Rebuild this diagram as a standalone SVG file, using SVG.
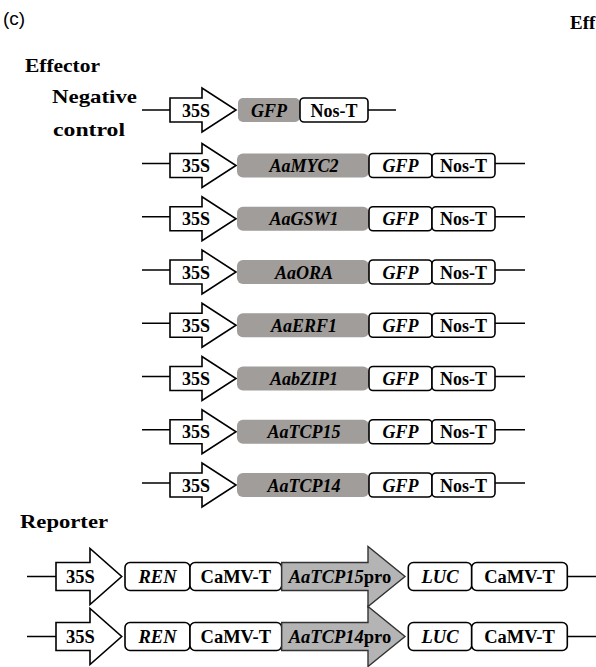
<svg xmlns="http://www.w3.org/2000/svg" width="596" height="667" viewBox="0 0 596 667">
<style>
.t{font-family:"Liberation Serif","Times New Roman",serif;font-weight:bold;font-size:18px;fill:#000;text-anchor:middle}
.i{font-style:italic}
.h{font-family:"Liberation Serif","Times New Roman",serif;font-weight:bold;fill:#000}
.box{fill:#fff;stroke:#000;stroke-width:1.6}
.arr{fill:#fff;stroke:#000;stroke-width:1.6;stroke-linejoin:miter}
.gene{fill:#a09d9a}
.pro{fill:#b4b4b4;stroke:#333;stroke-width:1.4}
.ln{stroke:#000;stroke-width:1.6;fill:none}
.r{font-size:18.5px}
</style>
<defs>
<path id="p35" d="M170,-12 H202 V-22 L236,0 L202,22 V12 H170 Z"/>
<path id="r35" d="M56,-14 H90 V-28 L121.7,0 L90,28 V14 H56 Z"/>
<path id="rpro" d="M281.7,-14 H368 V-30 L405,0 L368,30 V14 H281.7 Z"/>
</defs>
<rect width="596" height="667" fill="#fff"/>
<text x="3" y="25" font-family="Liberation Sans, Arial, sans-serif" font-size="19">(c)</text>
<text class="h" x="570" y="29" font-size="19">Eff</text>
<text class="h" x="25" y="71.5" font-size="18" textLength="75" lengthAdjust="spacingAndGlyphs">Effector</text>
<text class="h" x="52" y="103" font-size="19" textLength="85" lengthAdjust="spacingAndGlyphs">Negative</text>
<text class="h" x="53" y="136" font-size="19" textLength="72" lengthAdjust="spacingAndGlyphs">control</text>
<text class="h" x="20" y="528" font-size="18" textLength="88" lengthAdjust="spacingAndGlyphs">Reporter</text>

<g id="connectors">
<path class="ln" d="M142,110 H170 M368,110 H396"/>
<path class="ln" d="M142,163.5 H170 M495,163.5 H525"/>
<path class="ln" d="M142,216.75 H170 M495,216.75 H525"/>
<path class="ln" d="M142,270 H170 M495,270 H525"/>
<path class="ln" d="M142,323.25 H170 M495,323.25 H525"/>
<path class="ln" d="M142,376.5 H170 M495,376.5 H525"/>
<path class="ln" d="M142,429.75 H170 M495,429.75 H525"/>
<path class="ln" d="M142,483 H170 M495,483 H525"/>
<path class="ln" d="M27,576.5 H56 M567.3,576.5 H596"/>
<path class="ln" d="M27,636.5 H56 M567.3,636.5 H596"/>
</g>

<g id="neg" transform="translate(0,110)">
<g id="neg-35S"><use href="#p35" class="arr"/><text class="t" x="196" y="6.5">35S</text></g>
<g id="neg-GFP"><rect class="gene" x="238" y="-12" width="62" height="24" rx="5"/><text class="t i" x="269" y="6.5">GFP</text></g>
<g id="neg-NosT"><rect class="box" x="300" y="-12" width="68" height="24" rx="4"/><text class="t" x="334" y="6.5">Nos-T</text></g>
</g>

<g id="myc2" transform="translate(0,165.5)">
<g id="myc2-35S"><use href="#p35" class="arr"/><text class="t" x="196" y="6.5">35S</text></g>
<g id="myc2-gene"><rect class="gene" x="237" y="-12" width="132" height="24" rx="6"/><text class="t i" x="304" y="6.5">AaMYC2</text></g>
<g id="myc2-GFP"><rect class="box" x="369" y="-12" width="63" height="24" rx="4"/><text class="t i" x="400.5" y="6.5">GFP</text></g>
<g id="myc2-NosT"><rect class="box" x="432" y="-12" width="63" height="24" rx="4"/><text class="t" x="463.5" y="6.5">Nos-T</text></g>
</g>

<g id="gsw1" transform="translate(0,218.75)">
<g id="gsw1-35S"><use href="#p35" class="arr"/><text class="t" x="196" y="6.5">35S</text></g>
<g id="gsw1-gene"><rect class="gene" x="237" y="-12" width="132" height="24" rx="6"/><text class="t i" x="304" y="6.5">AaGSW1</text></g>
<g id="gsw1-GFP"><rect class="box" x="369" y="-12" width="63" height="24" rx="4"/><text class="t i" x="400.5" y="6.5">GFP</text></g>
<g id="gsw1-NosT"><rect class="box" x="432" y="-12" width="63" height="24" rx="4"/><text class="t" x="463.5" y="6.5">Nos-T</text></g>
</g>

<g id="ora" transform="translate(0,272)">
<g id="ora-35S"><use href="#p35" class="arr"/><text class="t" x="196" y="6.5">35S</text></g>
<g id="ora-gene"><rect class="gene" x="237" y="-12" width="132" height="24" rx="6"/><text class="t i" x="304" y="6.5">AaORA</text></g>
<g id="ora-GFP"><rect class="box" x="369" y="-12" width="63" height="24" rx="4"/><text class="t i" x="400.5" y="6.5">GFP</text></g>
<g id="ora-NosT"><rect class="box" x="432" y="-12" width="63" height="24" rx="4"/><text class="t" x="463.5" y="6.5">Nos-T</text></g>
</g>

<g id="erf1" transform="translate(0,325.25)">
<g id="erf1-35S"><use href="#p35" class="arr"/><text class="t" x="196" y="6.5">35S</text></g>
<g id="erf1-gene"><rect class="gene" x="237" y="-12" width="132" height="24" rx="6"/><text class="t i" x="304" y="6.5">AaERF1</text></g>
<g id="erf1-GFP"><rect class="box" x="369" y="-12" width="63" height="24" rx="4"/><text class="t i" x="400.5" y="6.5">GFP</text></g>
<g id="erf1-NosT"><rect class="box" x="432" y="-12" width="63" height="24" rx="4"/><text class="t" x="463.5" y="6.5">Nos-T</text></g>
</g>

<g id="bzip1" transform="translate(0,378.5)">
<g id="bzip1-35S"><use href="#p35" class="arr"/><text class="t" x="196" y="6.5">35S</text></g>
<g id="bzip1-gene"><rect class="gene" x="237" y="-12" width="132" height="24" rx="6"/><text class="t i" x="304" y="6.5">AabZIP1</text></g>
<g id="bzip1-GFP"><rect class="box" x="369" y="-12" width="63" height="24" rx="4"/><text class="t i" x="400.5" y="6.5">GFP</text></g>
<g id="bzip1-NosT"><rect class="box" x="432" y="-12" width="63" height="24" rx="4"/><text class="t" x="463.5" y="6.5">Nos-T</text></g>
</g>

<g id="tcp15" transform="translate(0,431.75)">
<g id="tcp15-35S"><use href="#p35" class="arr"/><text class="t" x="196" y="6.5">35S</text></g>
<g id="tcp15-gene"><rect class="gene" x="237" y="-12" width="132" height="24" rx="6"/><text class="t i" x="304" y="6.5">AaTCP15</text></g>
<g id="tcp15-GFP"><rect class="box" x="369" y="-12" width="63" height="24" rx="4"/><text class="t i" x="400.5" y="6.5">GFP</text></g>
<g id="tcp15-NosT"><rect class="box" x="432" y="-12" width="63" height="24" rx="4"/><text class="t" x="463.5" y="6.5">Nos-T</text></g>
</g>

<g id="tcp14" transform="translate(0,485)">
<g id="tcp14-35S"><use href="#p35" class="arr"/><text class="t" x="196" y="6.5">35S</text></g>
<g id="tcp14-gene"><rect class="gene" x="237" y="-12" width="132" height="24" rx="6"/><text class="t i" x="304" y="6.5">AaTCP14</text></g>
<g id="tcp14-GFP"><rect class="box" x="369" y="-12" width="63" height="24" rx="4"/><text class="t i" x="400.5" y="6.5">GFP</text></g>
<g id="tcp14-NosT"><rect class="box" x="432" y="-12" width="63" height="24" rx="4"/><text class="t" x="463.5" y="6.5">Nos-T</text></g>
</g>

<g id="rep15" transform="translate(0,576.5)">
<g id="rep15-35S"><use href="#r35" class="arr"/><text class="t r" x="80.5" y="6.5">35S</text></g>
<g id="rep15-REN"><rect class="box" x="125" y="-14" width="65" height="28" rx="5"/><text class="t r i" x="157.5" y="6.5">REN</text></g>
<g id="rep15-CaMVT1"><rect class="box" x="190" y="-14" width="91.7" height="28" rx="5"/><text class="t r" x="235.8" y="6.5">CaMV-T</text></g>
<g id="rep15-pro"><use href="#rpro" class="pro"/><text class="t r" x="340" y="6.5"><tspan class="i">AaTCP15</tspan>pro</text></g>
<g id="rep15-LUC"><rect class="box" x="408.3" y="-14" width="63.4" height="28" rx="5"/><text class="t r i" x="440" y="6.5">LUC</text></g>
<g id="rep15-CaMVT2"><rect class="box" x="471.7" y="-14" width="95.6" height="28" rx="5"/><text class="t r" x="519.5" y="6.5">CaMV-T</text></g>
</g>

<g id="rep14" transform="translate(0,636.5)">
<g id="rep14-35S"><use href="#r35" class="arr"/><text class="t r" x="80.5" y="6.5">35S</text></g>
<g id="rep14-REN"><rect class="box" x="125" y="-14" width="65" height="28" rx="5"/><text class="t r i" x="157.5" y="6.5">REN</text></g>
<g id="rep14-CaMVT1"><rect class="box" x="190" y="-14" width="91.7" height="28" rx="5"/><text class="t r" x="235.8" y="6.5">CaMV-T</text></g>
<g id="rep14-pro"><use href="#rpro" class="pro"/><text class="t r" x="340" y="6.5"><tspan class="i">AaTCP14</tspan>pro</text></g>
<g id="rep14-LUC"><rect class="box" x="408.3" y="-14" width="63.4" height="28" rx="5"/><text class="t r i" x="440" y="6.5">LUC</text></g>
<g id="rep14-CaMVT2"><rect class="box" x="471.7" y="-14" width="95.6" height="28" rx="5"/><text class="t r" x="519.5" y="6.5">CaMV-T</text></g>
</g>
</svg>
